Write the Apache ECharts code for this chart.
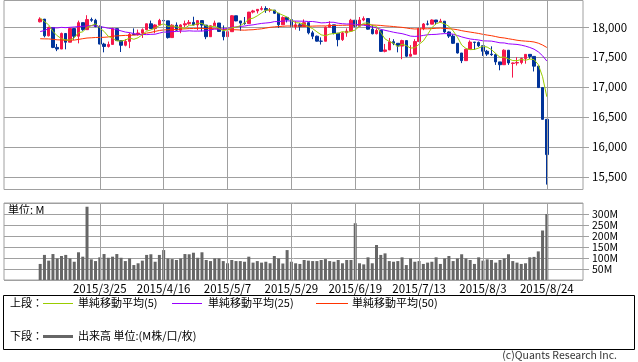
<!DOCTYPE html>
<html><head><meta charset="utf-8">
<script src="https://cdn.jsdelivr.net/npm/echarts@6/dist/echarts.min.js"></script>
<style>html,body{margin:0;padding:0;background:#fff}#c{width:638px;height:362px}</style>
</head><body><div id="c"></div>
<script>
const dates = ['2015/3/5','2015/3/6','2015/3/9','2015/3/10','2015/3/11','2015/3/12','2015/3/13','2015/3/16','2015/3/17','2015/3/18','2015/3/19','2015/3/20','2015/3/23','2015/3/24','2015/3/25','2015/3/26','2015/3/27','2015/3/30','2015/3/31',
'2015/4/1','2015/4/2','2015/4/6','2015/4/7','2015/4/8','2015/4/9','2015/4/10','2015/4/13','2015/4/14','2015/4/15','2015/4/16','2015/4/17','2015/4/20','2015/4/21','2015/4/22','2015/4/23','2015/4/24','2015/4/27','2015/4/28','2015/4/29','2015/4/30',
'2015/5/1','2015/5/4','2015/5/5','2015/5/6','2015/5/7','2015/5/8','2015/5/11','2015/5/12','2015/5/13','2015/5/14','2015/5/15','2015/5/18','2015/5/19','2015/5/20','2015/5/21','2015/5/22','2015/5/26','2015/5/27','2015/5/28','2015/5/29',
'2015/6/1','2015/6/2','2015/6/3','2015/6/4','2015/6/5','2015/6/8','2015/6/9','2015/6/10','2015/6/11','2015/6/12','2015/6/15','2015/6/16','2015/6/17','2015/6/18','2015/6/19','2015/6/22','2015/6/23','2015/6/24','2015/6/25','2015/6/26','2015/6/29','2015/6/30',
'2015/7/1','2015/7/2','2015/7/6','2015/7/7','2015/7/8','2015/7/9','2015/7/10','2015/7/13','2015/7/14','2015/7/15','2015/7/16','2015/7/17','2015/7/20','2015/7/21','2015/7/22','2015/7/23','2015/7/24','2015/7/27','2015/7/28','2015/7/29','2015/7/30','2015/7/31',
'2015/8/3','2015/8/4','2015/8/5','2015/8/6','2015/8/7','2015/8/10','2015/8/11','2015/8/12','2015/8/13','2015/8/14','2015/8/17','2015/8/18','2015/8/19','2015/8/20','2015/8/21','2015/8/24'];

const opens = [18090,18135,17856,17995,17662,17635,17895,17749,17977,17849,18076,17959,18127,18116,18011,17718,17678,17712,17976,
17776,17698,17763,17880,17875,17902,17958,18057,17977,18037,18113,18106,17826,18034,17950,18038,18058,18080,18038,18110,18035,
17841,18024,18070,17929,17842,17925,18191,18105,18068,18060,18252,18272,18298,18312,18285,18285,18232,18041,18163,18126,
18011,18040,18011,18076,17906,17849,17767,17765,18000,18039,17899,17792,17905,17935,18116,18015,18120,18144,17967,17891,17947,17596,
17620,17758,17731,17684,17776,17515,17548,17760,17977,18054,18051,18120,18086,18100,17920,17851,17731,17569,17441,17631,17751,17746,
17690,17598,17551,17541,17420,17373,17615,17395,17402,17409,17477,17546,17512,17349,16991,16460];
const closes = [18135,17856,17995,17662,17635,17895,17749,17977,17849,18076,17959,18127,18116,18011,17718,17678,17712,17976,17776,
17698,17763,17880,17875,17902,17958,18057,17977,18037,18113,18106,17826,18034,17950,18038,18058,18080,18038,18110,18035,17841,
18024,18070,17929,17842,17925,18191,18105,18068,18060,18252,18272,18298,18312,18285,18285,18232,18041,18163,18126,18011,
18040,18011,18076,17906,17849,17767,17765,18000,18039,17899,17792,17905,17935,18116,18015,18120,18144,17967,17891,17947,17596,17620,
17758,17731,17684,17776,17515,17548,17760,17977,18054,18051,18120,18086,18100,17920,17851,17731,17569,17441,17631,17751,17746,17690,
17598,17551,17541,17420,17373,17615,17403,17402,17409,17477,17546,17512,17349,16991,16460,15871];
const highs = [18165,18135,18010,17995,17720,17910,17900,17990,17977,18110,18076,18200,18160,18140,18030,17740,17760,17990,17976,
17776,17800,17910,17980,17960,17980,18060,18110,18050,18140,18125,18106,18050,18080,18050,18110,18120,18175,18120,18110,18035,
18030,18110,18070,18030,17950,18200,18191,18105,18170,18255,18290,18300,18350,18350,18320,18285,18232,18180,18163,18126,
18100,18070,18130,18076,17940,17860,17830,18010,18100,18039,17899,17920,17980,18140,18116,18170,18180,18150,18040,17980,17947,17720,
17820,17800,17731,17790,17776,17700,17800,17990,18070,18110,18130,18120,18140,18100,17930,17880,17731,17569,17640,17780,17751,17760,
17690,17620,17680,17560,17420,17630,17615,17410,17500,17490,17550,17546,17512,17349,16991,16460];
const lows = [18080,17830,17845,17650,17600,17635,17630,17749,17790,17730,17940,17959,18090,18000,17715,17580,17660,17712,17770,
17585,17680,17650,17870,17860,17820,17950,17970,17900,18030,18070,17810,17826,17940,17900,18000,18040,18030,17950,17930,17800,
17841,18020,17920,17780,17790,17925,18100,17940,18040,18060,18230,18230,18280,18240,18250,18220,17990,18041,18080,17990,
17960,17940,18011,17880,17800,17760,17710,17765,18000,17880,17680,17770,17840,17935,18000,18015,18100,17960,17880,17880,17590,17580,
17620,17700,17580,17465,17500,17510,17548,17760,17950,18030,18051,18040,18070,17900,17820,17720,17560,17400,17441,17631,17620,17670,
17520,17520,17520,17370,17280,17373,17370,17158,17360,17380,17390,17470,17260,16990,16459,15370];
const volumes = [73,114,88,118,98,109,114,98,83,126,106,333,94,86,103,118,101,106,118,101,
86,98,68,76,88,114,117,83,114,136,98,95,91,98,118,117,124,101,126,91,
86,98,98,86,76,91,86,86,83,106,79,86,79,83,76,109,98,75,136,83,
76,73,91,88,86,86,91,95,86,83,91,76,91,91,258,76,71,103,76,159,
114,121,86,83,86,103,68,98,83,86,73,79,83,103,73,98,109,86,98,117,
98,91,73,103,88,94,91,79,91,98,117,86,79,73,76,103,105,130,225,300];
const ma5 = [18152,18096,18038,17929,17857,17809,17787,17784,17821,17909,17922,17998,18025,18058,17986,17930,17847,17819,17772,
17768,17785,17819,17798,17824,17876,17934,17954,17986,18028,18058,18012,18023,18006,17991,17981,18032,18033,18065,18064,18021,
18010,18016,17980,17941,17958,17991,17998,18026,18070,18135,18151,18190,18239,18284,18290,18282,18231,18201,18169,18115,
18076,18070,18053,18009,17976,17922,17873,17857,17884,17894,17899,17927,17914,17929,17953,18018,18066,18072,18027,18014,17909,17804,
17762,17730,17678,17714,17693,17651,17657,17715,17771,17878,17992,18058,18082,18055,18015,17938,17834,17702,17645,17625,17628,17652,
17683,17667,17625,17560,17497,17500,17470,17443,17440,17461,17447,17469,17459,17375,17172,16837];
const ma25 = [17927,17944,17978,17990,17988,17997,17992,17998,18003,18011,18015,18021,18025,18024,18011,17999,17982,17976,17959,
17938,17919,17909,17893,17881,17879,17876,17881,17883,17901,17919,17917,17928,17927,17935,17934,17939,17935,17935,17936,17941,
17955,17969,17967,17970,17979,17996,18005,18013,18019,18031,18039,18052,18063,18070,18077,18093,18094,18102,18106,18104,
18102,18101,18100,18095,18095,18085,18072,18075,18083,18082,18066,18058,18053,18055,18046,18040,18033,18020,18004,17990,17965,17948,
17932,17916,17903,17892,17873,17851,17846,17851,17862,17874,17878,17880,17888,17893,17891,17883,17861,17838,17819,17803,17794,17786,
17772,17770,17767,17754,17739,17737,17722,17717,17712,17700,17683,17661,17633,17588,17523,17434];
const ma50 = [17807,17805,17804,17797,17789,17786,17781,17784,17784,17796,17808,17819,17823,17828,17830,17831,17837,17850,17855,
17859,17863,17864,17868,17873,17884,17901,17913,17930,17945,17954,17957,17960,17962,17969,17972,17977,17978,17980,17980,17976,
17977,17975,17972,17964,17958,17958,17957,17953,17950,17955,17958,17966,17973,17985,17998,18005,18011,18015,18020,18019,
18020,18018,18017,18015,18018,18020,18021,18021,18026,18030,18031,18032,18033,18037,18038,18039,18043,18041,18037,18034,18029,18021,
18017,18011,18003,17997,17987,17976,17970,17973,17973,17973,17977,17982,17985,17980,17975,17968,17958,17942,17929,17918,17907,17895,
17881,17868,17858,17843,17828,17820,17807,17795,17782,17773,17767,17762,17753,17733,17702,17661];
const tickDates = ['2015/3/25','2015/4/16','2015/5/7','2015/5/29','2015/6/19','2015/7/13','2015/8/3','2015/8/24'];
const yTopRange = [15288, 18446];
const volRange = [0, 350];

const PAD = 8;
const cats = [];
for (let i = 0; i < PAD; i++) cats.push('a' + i);
dates.forEach(d => cats.push(d));
for (let i = 0; i < PAD; i++) cats.push('z' + i);
const pad = arr => [...Array(PAD).fill('-'), ...arr, ...Array(PAD).fill('-')];
const candle = pad(dates.map((d, i) => [opens[i], closes[i], lows[i], highs[i]]));
const tickSet = new Set(tickDates);
const FONT = '"Noto Sans CJK JP", "Noto Sans", sans-serif';
const UP = '#f5174b', DOWN = '#003399', GRID = '#a0a0a0';

const chart = echarts.init(document.getElementById('c'), null, {renderer: 'canvas'});
const vline = {
  silent: true, symbol: ['none', 'none'], label: {show: false},
  lineStyle: {color: GRID, width: 1, type: 'solid'},
  emphasis: {disabled: true},
  data: tickDates.map(d => ({xAxis: d}))
};
chart.setOption({
  animation: false,
  backgroundColor: '#fff',
  textStyle: {fontFamily: FONT},
  grid: [
    {left: 4, right: 55, top: 0.5, height: 189, show: true, borderColor: GRID, borderWidth: 1, backgroundColor: 'transparent'},
    {left: 4, right: 55, top: 203, height: 77, show: true, borderColor: GRID, borderWidth: 1, backgroundColor: 'transparent'}
  ],
  xAxis: [
    {type: 'category', gridIndex: 0, data: cats, boundaryGap: true,
     axisLine: {show: false}, axisTick: {show: false}, axisLabel: {show: false}, splitLine: {show: false}},
    {type: 'category', gridIndex: 1, data: cats, boundaryGap: true,
     axisLine: {show: false}, axisTick: {show: false}, splitLine: {show: false},
     axisLabel: {show: true, interval: (idx, v) => tickSet.has(v), color: '#000', fontSize: 11.5, fontFamily: FONT, margin: 3}}
  ],
  yAxis: [
    {type: 'value', gridIndex: 0, position: 'right', min: yTopRange[0], max: yTopRange[1], splitNumber: 6, scale: true,
     axisLine: {show: false},
     axisTick: {show: true, length: 6, lineStyle: {color: GRID}},
     splitLine: {show: true, lineStyle: {color: GRID, width: 1}},
     axisLabel: {show: true, showMinLabel: false, showMaxLabel: false, color: '#000', fontSize: 11.5, fontFamily: FONT, margin: 9,
       formatter: v => v.toLocaleString('en-US')}},
    {type: 'value', gridIndex: 1, position: 'right', min: volRange[0], max: volRange[1], interval: 50,
     axisLine: {show: false},
     axisTick: {show: true, length: 6, lineStyle: {color: GRID}},
     splitLine: {show: true, lineStyle: {color: GRID, width: 1}},
     axisLabel: {show: true, showMinLabel: false, showMaxLabel: false, color: '#000', fontSize: 10.5, fontFamily: FONT, margin: 9,
       formatter: v => v + 'M'}}
  ],
  series: [
    {type: 'line', xAxisIndex: 0, yAxisIndex: 0, data: [], z: 1, markLine: vline},
    {type: 'line', xAxisIndex: 1, yAxisIndex: 1, data: [], z: 1, markLine: vline},
    {type: 'candlestick', name: 'price', xAxisIndex: 0, yAxisIndex: 0, data: candle, barWidth: 3, z: 2,
     itemStyle: {color: UP, color0: DOWN, borderColor: UP, borderColor0: DOWN, borderColorDoji: UP, borderWidth: 1}},
    {type: 'line', name: '単純移動平均(50)', xAxisIndex: 0, yAxisIndex: 0, data: pad(ma50), showSymbol: false, z: 3,
     lineStyle: {color: '#ff3300', width: 1}},
    {type: 'line', name: '単純移動平均(25)', xAxisIndex: 0, yAxisIndex: 0, data: pad(ma25), showSymbol: false, z: 3,
     lineStyle: {color: '#9900ff', width: 1}},
    {type: 'line', name: '単純移動平均(5)', xAxisIndex: 0, yAxisIndex: 0, data: pad(ma5), showSymbol: false, z: 3,
     lineStyle: {color: '#99cc00', width: 1}},
    {type: 'bar', name: '出来高', xAxisIndex: 1, yAxisIndex: 1, data: pad(volumes), barWidth: 3, z: 2,
     itemStyle: {color: '#666666'}}
  ],
  graphic: [
    {type: 'text', left: 8, top: 204, style: {text: '単位: M', font: '11px ' + FONT, fill: '#000'}},
    {type: 'rect', shape: {x: 3.5, y: 295.5, width: 631, height: 54}, style: {fill: 'none', stroke: '#000', lineWidth: 1}},
    {type: 'text', left: 10, top: 297, style: {text: '上段：', font: '11px ' + FONT, fill: '#000'}},
    {type: 'line', shape: {x1: 43, y1: 303.5, x2: 73, y2: 303.5}, style: {stroke: '#99cc00', lineWidth: 1}},
    {type: 'text', left: 78, top: 297, style: {text: '単純移動平均(5)', font: '11px ' + FONT, fill: '#000'}},
    {type: 'line', shape: {x1: 172, y1: 303.5, x2: 202, y2: 303.5}, style: {stroke: '#9900ff', lineWidth: 1}},
    {type: 'text', left: 208, top: 297, style: {text: '単純移動平均(25)', font: '11px ' + FONT, fill: '#000'}},
    {type: 'line', shape: {x1: 316, y1: 303.5, x2: 348, y2: 303.5}, style: {stroke: '#ff3300', lineWidth: 1}},
    {type: 'text', left: 352, top: 297, style: {text: '単純移動平均(50)', font: '11px ' + FONT, fill: '#000'}},
    {type: 'text', left: 10, top: 330, style: {text: '下段：', font: '11px ' + FONT, fill: '#000'}},
    {type: 'line', shape: {x1: 43, y1: 336.5, x2: 73, y2: 336.5}, style: {stroke: '#666666', lineWidth: 3}},
    {type: 'text', left: 78, top: 330, style: {text: '出来高 単位:(M株/口/枚)', font: '11px ' + FONT, fill: '#000'}},
    {type: 'text', right: 21, top: 350, style: {text: '(c)Quants Research Inc.', font: '10.5px ' + FONT, fill: '#333'}}
  ]
});
</script></body></html>
